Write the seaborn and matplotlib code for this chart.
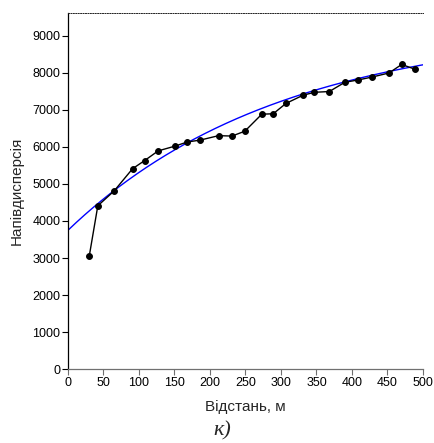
import numpy as np
import pandas as pd
import matplotlib
matplotlib.use("Agg")
import matplotlib.pyplot as plt
import seaborn as sns

# Experimental semivariogram (distance, m ; semivariance)
distance = [30, 42, 65, 91, 108, 127, 151, 168, 186, 212, 231, 249,
            273, 289, 307, 331, 347, 368, 390, 408, 428, 452, 470, 489]
semivar = [3060, 4410, 4810, 5410, 5630, 5890, 6020, 6130, 6180, 6300, 6290, 6420,
           6880, 6890, 7170, 7390, 7470, 7490, 7740, 7800, 7880, 7990, 8220, 8090]

# Fitted exponential model parameters
nugget = 3750
partial_sill = 5500
model_range = 300

x_ticks = [0, 50, 100, 150, 200, 250, 300, 350, 400, 450, 500]
y_ticks = [0, 1000, 2000, 3000, 4000, 5000, 6000, 7000, 8000, 9000]

sns.set_theme(style="ticks")
plt.rcParams['font.family'] = ['Liberation Sans', 'DejaVu Sans']

fig = plt.figure(figsize=(4.35, 4.43), dpi=100)
ax = fig.add_axes([68/435, 1-369.3/443, (423-68)/435, (369.3-13.3)/443])

h = np.linspace(0, 500, 300)
model = pd.DataFrame({"h": h, "g": nugget + partial_sill * (1 - np.exp(-h / model_range))})
sns.lineplot(data=model, x="h", y="g", ax=ax, color="#0000ff", linewidth=1.0)

emp = pd.DataFrame({"h": distance, "g": semivar})
sns.lineplot(data=emp, x="h", y="g", ax=ax, color="black", linewidth=1.0,
             marker="o", markersize=4.2, markeredgecolor="black")

ax.set_xlim(0, 500)
ax.set_ylim(0, 9600)
ax.set_xticks(x_ticks)
ax.set_yticks(y_ticks)
ax.tick_params(axis="both", labelsize=9, length=4, width=0.8, pad=1.5, colors="black")
ax.tick_params(axis="x", color="#707070")

ax.spines["right"].set_visible(False)
ax.spines["top"].set_linestyle((0, (1, 1.5)))
ax.spines["top"].set_linewidth(0.7)
ax.spines["top"].set_color("#222222")
ax.spines["left"].set_color("black")
ax.spines["left"].set_linewidth(0.9)
ax.spines["bottom"].set_color("#707070")
ax.spines["bottom"].set_linewidth(0.9)

ax.set_xlabel("Відстань, м", fontsize=11, labelpad=8)
ax.set_ylabel("Напівдисперсія", fontsize=11, labelpad=6)

fig.text(222/435, 1-431/443, "к)", fontsize=16, style="italic",
         family=["Liberation Serif", "DejaVu Serif"], ha="center", va="center")

fig.savefig("out.png", dpi=100)
